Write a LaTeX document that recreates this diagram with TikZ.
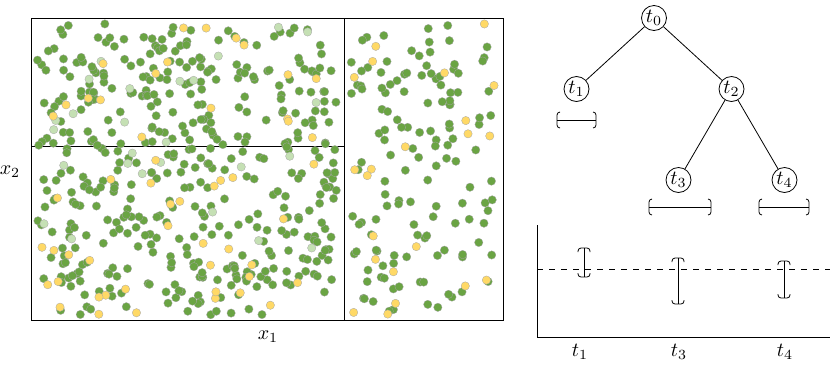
\documentclass[tikz,border=0pt]{standalone}
\usepackage{amsmath,amssymb}
\usepackage{tikz}
\usetikzlibrary{trees}
\usepackage{xcolor}
\definecolor{ptgreen}{HTML}{6AA443}
\definecolor{ptyellow}{HTML}{FFD966}
\definecolor{ptlight}{HTML}{C5E0B4}

\tikzset{tnode/.style={draw,circle,minimum size=12.5pt,inner sep=0pt},
  pt/.style={draw=black!35,line width=0.15pt}}

% interval under a tree node: left x, right x, y
\newcommand{\hspan}[3]{%
  \draw[rounded corners=1.5pt] (#1+3,#3-8) -- (#1,#3-8) -- (#1,#3+8) -- (#1+3,#3+8);
  \draw[rounded corners=1.5pt] (#2-3,#3-8) -- (#2,#3-8) -- (#2,#3+8) -- (#2-3,#3+8);
  \draw (#1,#3) -- (#2,#3);}
% error bar: x, top y, bottom y
\newcommand{\vspan}[3]{%
  \draw[rounded corners=1.5pt] (#1-6,#2+4) -- (#1-6,#2) -- (#1+6,#2) -- (#1+6,#2+4);
  \draw[rounded corners=1.5pt] (#1-6,#3-4) -- (#1-6,#3) -- (#1+6,#3) -- (#1+6,#3-4);
  \draw (#1,#2) -- (#1,#3);}
% one dot at random inside x0..x0+w, y0..y0+h
\newcommand{\rdot}[5]{%
  \pgfmathsetmacro\px{#2+rnd*#4}\pgfmathsetmacro\skip{rnd}%
  \pgfmathsetmacro\py{#3+rnd*#5}\pgfmathsetmacro\skip{rnd}%
  \filldraw[pt,fill=#1] (\px,\py) circle (2.1pt);}

\begin{document}
\begin{tikzpicture}[x=0.5pt,y=-0.5pt,
  level 1/.style={level distance=35.5pt,sibling distance=77.5pt},
  level 2/.style={level distance=45.5pt,sibling distance=53pt}]
\useasboundingbox (0,0) rectangle (830,365);

% feature space
\draw (31,18) rectangle (503,320);
\draw (344,18) -- (344,320);
\draw (31,146) -- (344,146);
\pgfmathsetseed{2024}
\foreach \i in {1,...,450} {\rdot{ptgreen}{36}{23}{304}{292}}
\foreach \i in {1,...,135} {\rdot{ptgreen}{349}{23}{149}{292}}
\foreach \i in {1,...,26} {\rdot{ptlight}{38}{24}{290}{230}}
\foreach \i in {1,...,52} {\rdot{ptyellow}{36}{23}{304}{292}}
\foreach \i in {1,...,22} {\rdot{ptyellow}{349}{23}{149}{292}}
\node (xa) at (268,337) {$x_1$};
\node (xb) at (10,172) {$x_2$};

% tree
\node[tnode] (t0) at (654,18) {$t_0$}
  child { node[tnode] (t1) {$t_1$} }
  child { node[tnode] (t2) {$t_2$}
    child { node[tnode] (t3) {$t_3$} }
    child { node[tnode] (t4) {$t_4$} }
  };
\hspan{557}{596}{120}
\hspan{649}{711}{207}
\hspan{759}{809}{207}

% intervals
\draw (537,225) -- (537,337) -- (830,337);
\draw[dashed] (537,269) -- (830,269);
\vspan{584}{248}{277}
\vspan{678}{258}{304}
\vspan{784}{261}{298}
\node (l1) at (580,352) {$t_1$};
\node (l3) at (679,352) {$t_3$};
\node (l4) at (785,352) {$t_4$};
\end{tikzpicture}
\end{document}
